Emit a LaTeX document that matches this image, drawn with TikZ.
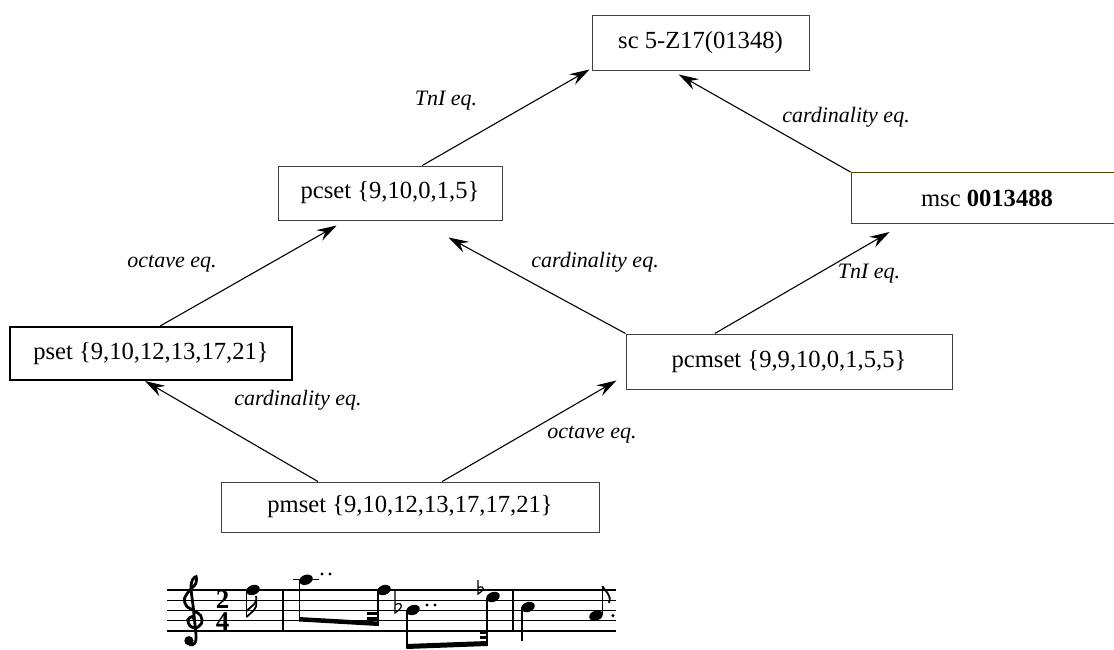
\documentclass[tikz,border=0pt]{standalone}
\usepackage{fontspec}
\setmainfont{Liberation Serif}
\usetikzlibrary{arrows.meta,calc}
\definecolor{edgegray}{RGB}{64,64,64}
\definecolor{mscline}{RGB}{77,72,0}

\newcommand\mhead[2]{\fill[rotate around={20:(#1,#2)}] (#1,#2) ellipse [x radius=7, y radius=4.9];}
\newcommand\mdot[2]{\fill (#1,#2) circle [radius=1.7];}

\begin{document}
\begin{tikzpicture}[x=0.5pt,y=-0.5pt,
  box/.style={draw=edgegray, line width=0.5pt, fill=white, inner sep=0pt,
    font=\fontsize{12.3}{15}\selectfont},
  lab/.style={font=\fontsize{11}{13}\selectfont\itshape, inner sep=0pt},
  arr/.style={-{Stealth[length=10pt,width=6pt,inset=3.5pt]}, line width=0.55pt},
  staffline/.style={line width=0.6pt},
  bar/.style={line width=0.9pt},
  stem/.style={line width=0.8pt}]
\useasboundingbox (0,0) rectangle (1114,649);

% ---- set classes ----
\node[box, minimum width=108.5pt, minimum height=27.5pt] (sc) at (700.5,42.5) {sc 5-Z17(01348)};
\node[box, minimum width=112pt, minimum height=27pt] (pcset) at (390,193) {pcset \{9,10,0,1,5\}};
\node[box, draw=mscline, minimum width=136pt, minimum height=25.5pt] (msc) at (987,198) {msc \textbf{0013488}};
\node[box, draw=black, line width=1pt, minimum width=141pt, minimum height=26.5pt] (pset) at (151,353.5) {pset \{9,10,12,13,17,21\}};
\node[box, minimum width=163pt, minimum height=27.5pt] (pcmset) at (789,361.5) {pcmset \{9,9,10,0,1,5,5\}};
\node[box, minimum width=189pt, minimum height=25pt] (pmset) at (410,507) {pmset \{9,10,12,13,17,17,21\}};

% ---- equivalence relations ----
\draw[arr] ($(pmset.north west)!0.257!(pmset.north east)$) -- ($(pset.south west)!0.479!(pset.south east)$);
\draw[arr] ($(pmset.north west)!0.585!(pmset.north east)$) -- ($(pcmset.south west)+(-9,-9)$);
\draw[arr] ($(pset.north west)!0.532!(pset.north east)$) -- ($(pcset.south west)!0.263!(pcset.south east)+(0,5)$);
\draw[arr] (pcmset.north west) -- ($(pcset.south west)!0.76!(pcset.south east)+(0,17)$);
\draw[arr] ($(pcmset.north west)!0.273!(pcmset.north east)$) -- ($(msc.south west)!0.143!(msc.south east)+(0,8)$);
\draw[arr] ($(pcset.north west)!0.643!(pcset.north east)$) -- ($(sc.south west)+(-2,-1)$);
\draw[arr] (msc.north west) -- ($(sc.south west)!0.4!(sc.south east)+(0,4)$);

\node[lab] (l1) at (446,101) {TnI eq.};
\node[lab] (l2) at (846,117) {cardinality eq.};
\node[lab] (l3) at (172,264) {octave eq.};
\node[lab] (l4) at (595,262) {cardinality eq.};
\node[lab] (l5) at (869,274) {TnI eq.};
\node[lab] (l6) at (298,400) {cardinality eq.};
\node[lab] (l7) at (592,435) {octave eq.};

% ---- musical excerpt ----
\foreach \yy in {590,600.25,610.5,620.75,631}
  \draw[staffline] (167,\yy) -- (616,\yy);
\draw[bar] (283,590) -- (283,631);
\draw[bar] (513,590) -- (513,631);

% treble clef
\begin{scope}[shift={(192,620.75)}, x=5.125pt, y=5.125pt]
  \draw[line width=1.4pt, line cap=round] plot[smooth, tension=0.55] coordinates {
    (0.25,0.05) (0.0,0.4) (-0.4,0.1) (-0.2,-0.5) (0.4,-0.7) (0.95,-0.2)
    (0.85,0.5) (0.25,0.95) (-0.5,1.4) (-0.75,2.1) (-0.3,2.9) (0.35,3.6)
    (0.4,4.3) (0.05,4.0) (-0.1,3.2) (0.1,1.5) (0.25,0) (0.4,-1.6)
    (0.25,-2.2) (-0.15,-2.35) (-0.4,-2.0)};
  \fill (-0.3,-1.95) circle [radius=0.45];
\end{scope}

% time signature 2/4, stacked
\node[inner sep=0pt, align=center, font=\fontsize{13.5}{11}\selectfont\bfseries] (ts) at (222.5,610.5) {2\\4};

% first measure: pickup sixteenth
\mhead{253}{590}
\draw[stem] (246.5,590) -- (246.5,617);
\draw[line width=0.9pt] (246.5,617) .. controls (251,612) and (258,610) .. (256,601);
\draw[line width=0.9pt] (246.5,611) .. controls (251,606) and (258,604) .. (256,596);

% second measure
\draw[staffline] (293,579.75) -- (319,579.75);
\mhead{306}{579.75}
\mdot{322}{574} \mdot{330}{574}
\draw[stem] (299.5,580) -- (299.5,620);
\mhead{384}{590}
\draw[stem] (377.7,590) -- (377.7,626);
\fill (299.1,617) -- (378.1,621.5) -- (378.1,626) -- (299.1,621.5) -- cycle;
\fill (367,612) rectangle (378.1,615);
\fill (367,616.5) rectangle (378.1,619.5);

% flat + b-flat
\draw[line width=0.6pt] (395,591) -- (395,613) .. controls (402,609) and (405,601) .. (395,604.5);
\mhead{413}{610}
\mdot{427}{605} \mdot{435}{605}
\draw[stem] (406.7,610) -- (406.7,648);
% flat + d-flat
\draw[line width=0.6pt] (478,580) -- (478,594) .. controls (484,591) and (486,585) .. (478,587.5);
\mhead{493}{597}
\draw[stem] (486.7,598) -- (486.7,646);
\fill (406.3,644) -- (487.1,641) -- (487.1,646) -- (406.3,649) -- cycle;
\fill (480,630.5) rectangle (487.1,633.5);
\fill (480,635.5) rectangle (487.1,638.5);

% third measure
\mhead{528}{607}
\draw[stem] (521.7,607) -- (521.7,641);
\mhead{596}{615.6}
\draw[stem] (602.3,615) -- (602.3,586);
\draw[line width=0.9pt] (602.3,586) .. controls (605,592) and (612,594) .. (609,603);
\mdot{613}{615.6}
\end{tikzpicture}
\end{document}
